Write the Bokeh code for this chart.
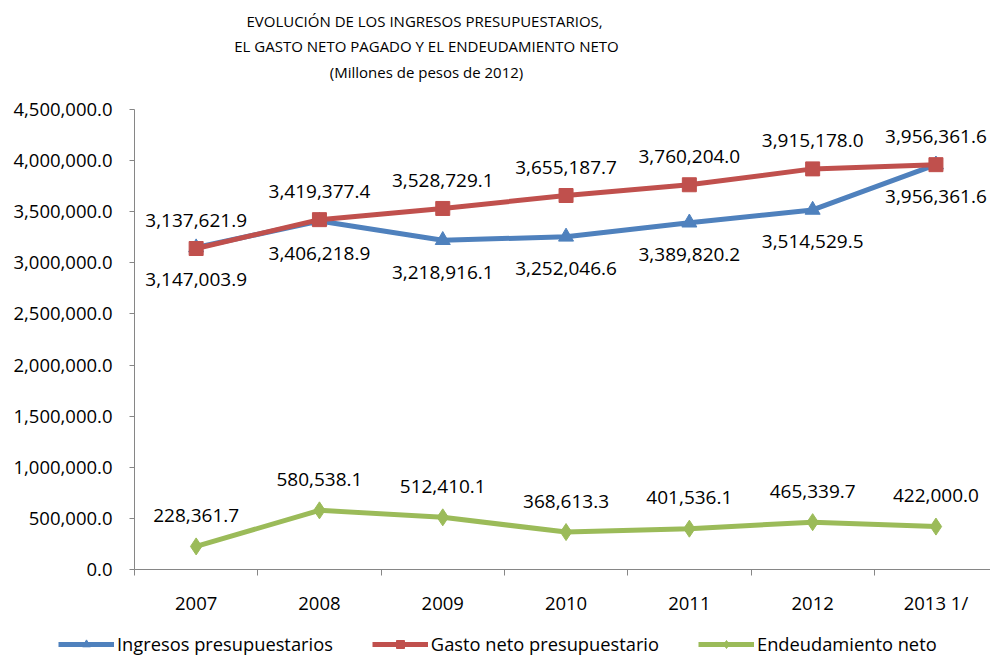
from bokeh.plotting import figure
from bokeh.models import (Range1d, FixedTicker, NumeralTickFormatter, Label,
                          Legend, LegendItem, ColumnDataSource)
from bokeh.core.properties import value
from bokeh.embed import file_html
from bokeh.resources import INLINE

# ---- data ----
categories = ["2007", "2008", "2009", "2010", "2011", "2012", "2013 1/"]
ingresos = [3147003.9, 3406218.9, 3218916.1, 3252046.6, 3389820.2, 3514529.5, 3956361.6]
gasto = [3137621.9, 3419377.4, 3528729.1, 3655187.7, 3760204.0, 3915178.0, 3956361.6]
endeudamiento = [228361.7, 580538.1, 512410.1, 368613.3, 401536.1, 465339.7, 422000.0]
y_ticks = [0, 500000, 1000000, 1500000, 2000000, 2500000, 3000000, 3500000, 4000000, 4500000]
title_lines = ["EVOLUCIÓN DE LOS INGRESOS  PRESUPUESTARIOS,",
               "EL GASTO NETO PAGADO Y EL ENDEUDAMIENTO NETO",
               "(Millones de pesos de 2012)"]
series_names = ["Ingresos presupuestarios", "Gasto neto presupuestario", "Endeudamiento neto"]

FONT_NAME = "Open Sans"
FONT = value(FONT_NAME)
BLUE, RED, GREEN = "#4F81BD", "#C0504D", "#9BBB59"
AXIS_GREY = "#868686"

W, H = 990, 658
# pixel layout of the plotting area inside the canvas
AX_LEFT_PX, AX_TOP_PX, AX_BOTTOM_PX = 134.0, 108.5, 569.3
CAT_PX = 123.3
Y_MAX = y_ticks[-1]
px_per_y = (AX_BOTTOM_PX - AX_TOP_PX) / Y_MAX

x_start = -0.5 - AX_LEFT_PX / CAT_PX
x_end = -0.5 + (W - AX_LEFT_PX) / CAT_PX
y_end = Y_MAX + AX_TOP_PX / px_per_y
y_start = -(H - AX_BOTTOM_PX) / px_per_y

xs = list(range(len(categories)))

def fmt(v):
    return f"{v:,.1f}"

p = figure(width=W, height=H, output_backend="svg", toolbar_location=None,
           x_range=Range1d(x_start, x_end), y_range=Range1d(y_start, y_end),
           min_border=0, min_border_left=0, min_border_right=0,
           min_border_top=0, min_border_bottom=0)
p.outline_line_color = None
p.xgrid.visible = False
p.ygrid.visible = False
p.background_fill_color = "white"
p.border_fill_color = "white"

# y axis, pinned at the left edge of the category band
ya = p.yaxis[0]
ya.fixed_location = -0.5
ya.bounds = (0, Y_MAX)
ya.ticker = FixedTicker(ticks=y_ticks)
ya.formatter = NumeralTickFormatter(format="0,0.0")
ya.axis_line_color = AXIS_GREY
ya.major_tick_line_color = AXIS_GREY
ya.major_tick_out = 5
ya.major_tick_in = 0
ya.minor_tick_line_color = None
ya.major_label_standoff = 17
ya.major_label_text_font = FONT_NAME
ya.major_label_text_font_size = "18.5px"
ya.major_label_text_color = "black"

# x axis, pinned at y = 0
xa = p.xaxis[0]
xa.fixed_location = 0
xa.bounds = (-0.5, x_end)
xa.ticker = FixedTicker(ticks=xs, minor_ticks=[i - 0.5 for i in range(len(categories) + 1)])
xa.major_label_overrides = {i: c for i, c in enumerate(categories)}
xa.axis_line_color = AXIS_GREY
xa.major_tick_line_color = None
xa.major_tick_out = 0
xa.major_tick_in = 0
xa.minor_tick_line_color = AXIS_GREY
xa.minor_tick_out = 6
xa.minor_tick_in = 0
xa.major_label_standoff = 14
xa.major_label_text_font = FONT_NAME
xa.major_label_text_font_size = "18.5px"
xa.major_label_text_color = "black"

src = ColumnDataSource(dict(
    x=xs, ing=ingresos, gas=gasto, end=endeudamiento,
    ing_t=[fmt(v) for v in ingresos], gas_t=[fmt(v) for v in gasto],
    end_t=[fmt(v) for v in endeudamiento]))

l1 = p.line("x", "ing", source=src, line_color=BLUE, line_width=5)
m1 = p.scatter("x", "ing", source=src, marker="triangle", size=15,
               fill_color=BLUE, line_color=BLUE)
l2 = p.line("x", "gas", source=src, line_color=RED, line_width=5)
m2 = p.scatter("x", "gas", source=src, marker="square", size=14,
               fill_color=RED, line_color=RED)
l3 = p.line("x", "end", source=src, line_color=GREEN, line_width=5)
m3 = p.scatter("x", "end", source=src, marker="diamond", size=17,
               fill_color=GREEN, line_color=GREEN)

common = dict(source=src, text_font=FONT, text_font_size="19px", text_color="black",
              text_align="center", text_baseline="middle")
p.text("x", "ing", text="ing_t", y_offset=32, **common)
p.text("x", "gas", text="gas_t", y_offset=-28, **common)
p.text("x", "end", text="end_t", y_offset=-31, **common)

# title lines (screen units measured from the bottom-left corner)
title_centers_px = [20, 45, 71]
for line, cy in zip(title_lines, title_centers_px):
    p.add_layout(Label(x=426, y=H - cy, x_units="screen", y_units="screen",
                       text=line, text_align="center", text_baseline="middle",
                       text_font=FONT_NAME, text_font_size="15px",
                       text_color="black"))

legend = Legend(items=[LegendItem(label=series_names[0], renderers=[l1, m1]),
                       LegendItem(label=series_names[1], renderers=[l2, m2]),
                       LegendItem(label=series_names[2], renderers=[l3, m3])],
                orientation="horizontal", location=(58, 2),
                border_line_alpha=0, background_fill_alpha=0, padding=0, margin=0,
                spacing=39, label_standoff=3, glyph_width=56, glyph_height=20,
                label_height=20, label_text_font=FONT_NAME,
                label_text_font_size="18.3px", label_text_color="black")
p.add_layout(legend)

open("out.html", "w").write(file_html(p, INLINE))
